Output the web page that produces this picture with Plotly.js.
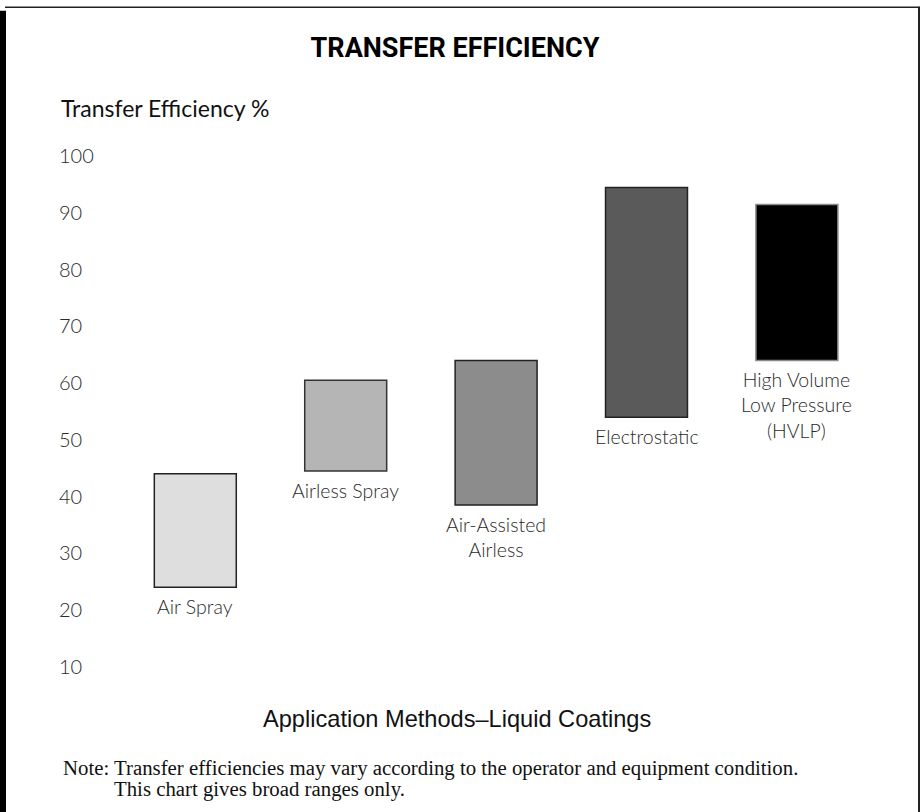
<!DOCTYPE html>
<html>
<head>
<meta charset="utf-8">
<script src="https://cdn.plot.ly/plotly-3.0.1.min.js"></script>
<style>
  html, body { margin: 0; padding: 0; background: #fff; }
  #chart { width: 922px; height: 812px; }
</style>
</head>
<body>
<div id="chart"></div>
<script>
// ---- data ----
const methods = ["Air Spray", "Airless Spray", "Air-Assisted<br>Airless", "Electrostatic", "High Volume<br>Low Pressure<br>(HVLP)"];
const lowEff  = [24, 44.5, 38.5, 54, 64];
const highEff = [44, 60.5, 64, 94.5, 91.5];
const yTickVals = [10, 20, 30, 40, 50, 60, 70, 80, 90, 100];
const yTickText = ["10", "20", "30", "40", "50", "60", "70", "80", "90", "100"];
const fillColors = ["#dedede", "#b5b5b5", "#8c8c8c", "#5a5a5a", "#000000"];
const edgeColors = ["#222222", "#333333", "#222222", "#222222", "#8a8a8a"];

// ---- geometry ----
const W = 922, H = 812;
const M = { l: 56, r: 22, t: 128.3, b: 117 };
const PW = W - M.l - M.r, PH = H - M.t - M.b;
const px = v => (v - M.l) / PW;          // page x -> paper x
const py = v => 1 - (v - M.t) / PH;      // page y -> paper y

const idx = methods.map((_, i) => i);
const xUnit = 150.4, x0Page = 195.3;
const xRange = [(M.l - x0Page) / xUnit, (M.l + PW - x0Page) / xUnit];

const lightFont = "Lato, 'Open Sans', 'DejaVu Sans', sans-serif";
const titleFont = "Roboto, 'Liberation Sans', Arial, sans-serif";
const sansFont = "'Liberation Sans', Arial, sans-serif";
const serifFont = "'Liberation Serif', 'Times New Roman', serif";

const trace = {
  type: "bar",
  x: idx,
  y: highEff.map((h, i) => h - lowEff[i]),
  base: lowEff,
  width: 0.545,
  marker: { color: fillColors, line: { color: edgeColors, width: 1.5 } },
  hoverinfo: "skip",
  showlegend: false
};

const annotations = idx.map(i => ({
  x: i, y: lowEff[i], xref: "x", yref: "y",
  text: methods[i], showarrow: false,
  xanchor: "center", yanchor: "top", yshift: -6,
  font: { family: lightFont, size: 19.5, color: "#2a2a2a", weight: 300 },
  align: "center"
}));

annotations.push({
  xref: "paper", yref: "paper", x: px(59), y: py(108),
  xanchor: "left", yanchor: "middle", showarrow: false,
  text: "Transfer Efficiency %",
  font: { family: lightFont, size: 23, color: "#111" }
});
annotations.push({
  xref: "paper", yref: "paper", x: px(457), y: py(719),
  xanchor: "center", yanchor: "middle", showarrow: false,
  text: "Application Methods–Liquid Coatings",
  font: { family: sansFont, size: 23.6, color: "#111" }
});
annotations.push({
  xref: "paper", yref: "paper", x: px(61), y: py(768),
  xanchor: "left", yanchor: "middle", showarrow: false,
  text: "Note: Transfer efficiencies may vary according to the operator and equipment condition.",
  font: { family: serifFont, size: 20.8, color: "#111" }
});
annotations.push({
  xref: "paper", yref: "paper", x: px(112), y: py(789),
  xanchor: "left", yanchor: "middle", showarrow: false,
  text: "This chart gives broad ranges only.",
  font: { family: serifFont, size: 20.8, color: "#111" }
});

const shapes = [
  { type: "rect", xref: "paper", yref: "paper", x0: px(0), x1: px(6), y0: py(812), y1: py(11), fillcolor: "#000", line: { width: 0 }, layer: "above" },
  { type: "line", xref: "paper", yref: "paper", x0: px(5), x1: px(920), y0: py(7.5), y1: py(7.5), line: { color: "#222", width: 1.5 } },
  { type: "line", xref: "paper", yref: "paper", x0: px(919), x1: px(919), y0: py(7), y1: py(812), line: { color: "#222", width: 2 } }
];

const layout = {
  width: W, height: H,
  margin: M,
  paper_bgcolor: "#fff", plot_bgcolor: "#fff",
  title: {
    text: "<b>TRANSFER EFFICIENCY</b>",
    xref: "container", yref: "container",
    x: 455 / W, y: 1 - 48 / H, xanchor: "center", yanchor: "middle",
    font: { family: titleFont, size: 27, color: "#000" }
  },
  xaxis: {
    range: xRange, showgrid: false, zeroline: false, showline: false,
    showticklabels: false, ticks: "", fixedrange: true
  },
  yaxis: {
    range: [5, 105], showgrid: false, zeroline: false, showline: false,
    tickvals: yTickVals, ticktext: yTickText, ticks: "",
    ticklabelposition: "inside",
    tickfont: { family: lightFont, size: 20, color: "#2a2a2a", weight: 300 },
    fixedrange: true
  },
  annotations: annotations,
  shapes: shapes,
  bargap: 0
};

Plotly.newPlot("chart", [trace], layout, { displayModeBar: false, staticPlot: true });
</script>
</body>
</html>
